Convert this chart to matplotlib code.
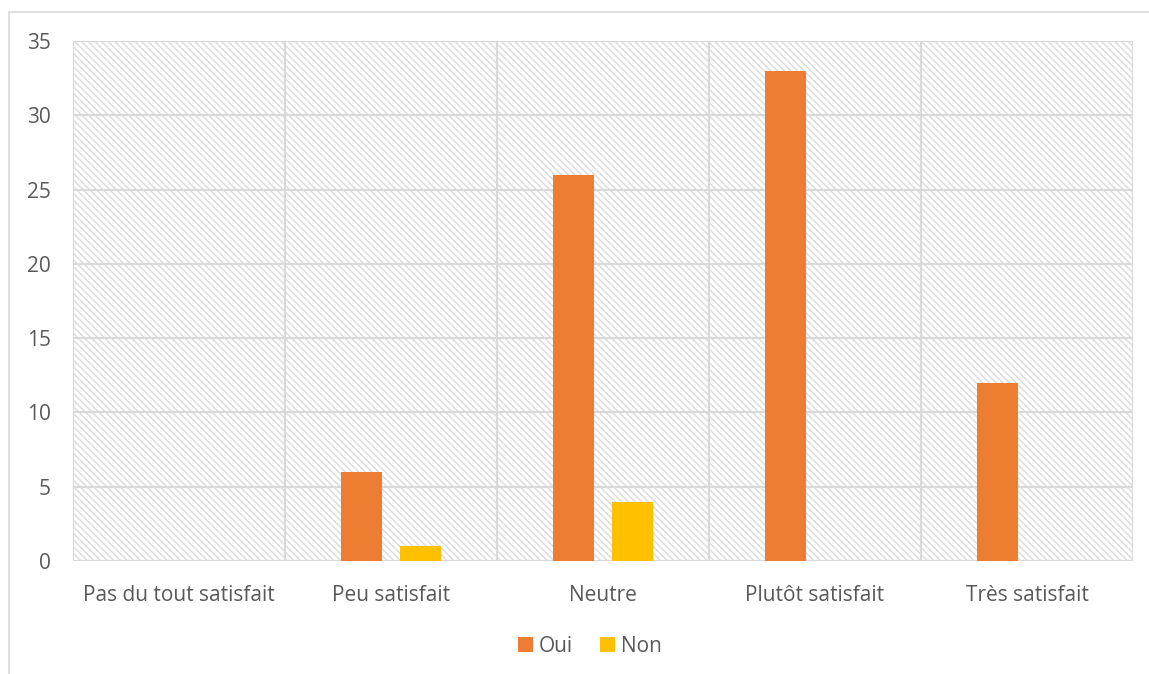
import matplotlib
matplotlib.use("Agg")
import matplotlib.pyplot as plt
import numpy as np
from matplotlib.patches import Rectangle
from matplotlib.lines import Line2D

categories = ["Pas du tout satisfait", "Peu satisfait", "Neutre", "Plutôt satisfait", "Très satisfait"]
oui = [0, 6, 26, 33, 12]
non = [0, 1, 4, 0, 0]
series_names = ["Oui", "Non"]
yticks = [0, 5, 10, 15, 20, 25, 30, 35]

ORANGE = "#ED7D31"
GOLD = "#FFC000"
TEXT = "#595959"
GRID = "#D9D9D9"
HATCH = "#DDDDDD"

plt.rcParams["font.family"] = ["Open Sans", "DejaVu Sans"]
plt.rcParams["hatch.linewidth"] = 1.1

fig = plt.figure(figsize=(11.49, 6.74), dpi=100)
ax = fig.add_axes([73 / 1149, 1 - 561 / 674, 1060 / 1149, 520 / 674])

# hatched plot-area background
ax.add_patch(Rectangle((0, 0), 1, 1, transform=ax.transAxes, facecolor="white",
                       edgecolor=HATCH, linewidth=0, hatch="\\" * 5, zorder=0))

x = np.arange(len(categories))
w = 0.195
off = 0.14
ax.bar(x - off, oui, width=w, color=ORANGE, zorder=3, label=series_names[0])
ax.bar(x + off, non, width=w, color=GOLD, zorder=3, label=series_names[1])

ax.set_xlim(-0.5, len(categories) - 0.5)
ax.set_ylim(0, 35)
ax.set_yticks(yticks)
ax.set_xticks(x)
ax.set_xticklabels(categories)
ax.tick_params(axis="both", length=0, labelsize=15, colors=TEXT)
ax.tick_params(axis="y", pad=16)
ax.tick_params(axis="x", pad=17)

for yv in yticks:
    ax.axhline(yv, color=GRID, lw=1.5, zorder=1)
for xv in np.arange(-0.5, len(categories), 1.0):
    ax.axvline(xv, color=GRID, lw=1.5, zorder=1)
for s in ax.spines.values():
    s.set_visible(False)

# chart outer frame
fig.add_artist(Line2D([9 / 1149, 9 / 1149], [0, 1 - 12 / 674], transform=fig.transFigure,
                      color=GRID, lw=1.2))
fig.add_artist(Line2D([9 / 1149, 1], [1 - 12 / 674, 1 - 12 / 674], transform=fig.transFigure,
                      color=GRID, lw=1.2))

leg = fig.legend(loc="center", bbox_to_anchor=(590 / 1149, 1 - 646 / 674), ncol=2,
                 frameon=False, fontsize=15, handlelength=0.7, handleheight=0.7,
                 handletextpad=0.3, columnspacing=1.3)
for t in leg.get_texts():
    t.set_color(TEXT)

fig.savefig("out.png", dpi=100)
